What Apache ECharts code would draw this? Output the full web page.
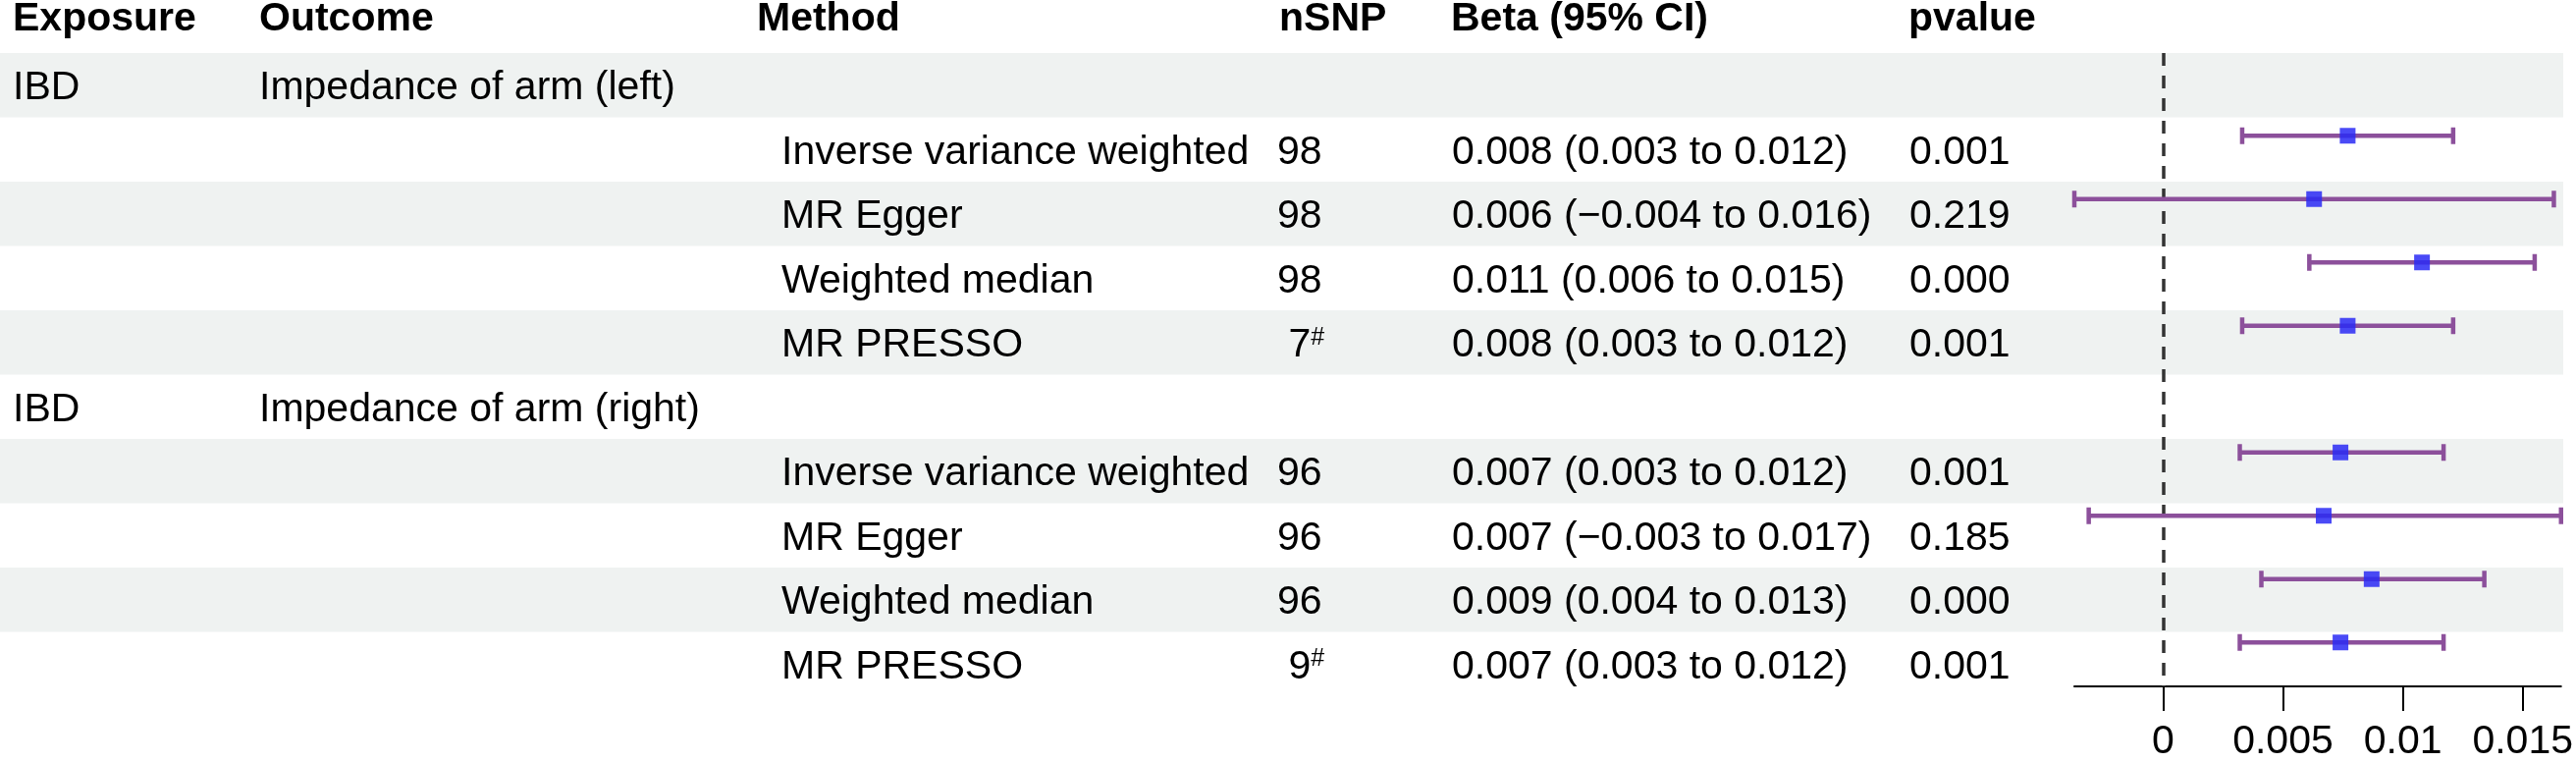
<!DOCTYPE html>
<html>
<head>
<meta charset="utf-8">
<script src="https://cdn.jsdelivr.net/npm/echarts@6/dist/echarts.min.js"></script>
<style>
html, body { margin: 0; padding: 0; background: #fff; }
#main { width: 2624px; height: 776px; }
</style>
</head>
<body>
<div id="main"></div>
<script>
// table columns
var headers = ['Exposure', 'Outcome', 'Method', 'nSNP', 'Beta (95% CI)', 'pvalue'];
var exposure = ['IBD', '', '', '', '', 'IBD', '', '', '', ''];
var outcome = ['Impedance of arm (left)', '', '', '', '', 'Impedance of arm (right)', '', '', '', ''];
var method = ['', 'Inverse variance weighted', 'MR Egger', 'Weighted median', 'MR PRESSO',
              '', 'Inverse variance weighted', 'MR Egger', 'Weighted median', 'MR PRESSO'];
var nsnp = ['', '98', '98', '98', ' 7{sup|#}', '', '96', '96', '96', ' 9{sup|#}'];
var betaText = ['', '0.008 (0.003 to 0.012)', '0.006 (\u22120.004 to 0.016)', '0.011 (0.006 to 0.015)', '0.008 (0.003 to 0.012)',
                '', '0.007 (0.003 to 0.012)', '0.007 (\u22120.003 to 0.017)', '0.009 (0.004 to 0.013)', '0.007 (0.003 to 0.012)'];
var pvalue = ['', '0.001', '0.219', '0.000', '0.001', '', '0.001', '0.185', '0.000', '0.001'];

// forest values
var beta  = [null, 0.0077, 0.0063, 0.0108, 0.0077, null, 0.0074, 0.0067, 0.0087, 0.0074];
var lower = [null, 0.0033, -0.0037, 0.0061, 0.0033, null, 0.0032, -0.0031, 0.0041, 0.0032];
var upper = [null, 0.0121, 0.0163, 0.0155, 0.0121, null, 0.0117, 0.0166, 0.0134, 0.0117];
var ticks = [0, 0.005, 0.01, 0.015];

var FONT = 'Liberation Sans, Arial, Helvetica, sans-serif';
var FS = 41;
var rowTop = 54, rowBottom = 709, tableRight = 2611, forestLeft = 2113;
var headX = [13, 264, 771, 1303, 1478, 1944];
var bodyX = [13, 264, 796, 1301, 1479, 1945];
var ciColor = '#8c509b', boxColor = '#2a2af5';

var rows = exposure.map(function (d, i) { return String(i); });
var columns = [exposure, outcome, method, nsnp, betaText, pvalue];

var xmin = Math.min.apply(null, lower.filter(function (v) { return v != null; }));
var xmax = Math.max.apply(null, upper.filter(function (v) { return v != null; }));

var myChart = echarts.init(document.getElementById('main'));

// 交替背景
function renderBand(params, api) {
  var k = api.value(0);
  if (k % 2 !== 0) return null;
  var p0 = api.coord([0, k]);
  var h = api.size([0, 1])[1];
  var p1 = api.coord([tableRight, k]);
  return {
    type: 'rect',
    shape: { x: p0[0], y: p0[1] - h / 2, width: p1[0] - p0[0], height: h },
    style: { fill: '#eff2f1' }
  };
}

function makeTextSeries(c) {
  var col = columns[c];
  return {
    type: 'custom',
    xAxisIndex: 1, yAxisIndex: 1,
    silent: true, z: 3,
    data: col.map(function (t, k) { return [k]; }),
    renderItem: function (params, api) {
      var k = api.value(0);
      var txt = col[k];
      if (!txt) return null;
      var p = api.coord([bodyX[c], k]);
      return {
        type: 'text',
        x: p[0], y: p[1] + 3,
        style: {
          text: txt, fill: '#000', fontFamily: FONT, fontSize: FS,
          align: 'left', verticalAlign: 'middle',
          rich: { sup: { fontSize: 25, fontFamily: FONT, fill: '#000', verticalAlign: 'top', lineHeight: 22 } }
        }
      };
    }
  };
}

function renderCI(params, api) {
  var k = api.value(1);
  var y = api.coord([0, k])[1] - 12.5;
  var xb = api.coord([api.value(0), k])[0];
  var xl = api.coord([api.value(2), k])[0];
  var xu = api.coord([api.value(3), k])[0];
  var lw = { stroke: ciColor, lineWidth: 4.5 };
  return {
    type: 'group',
    children: [
      { type: 'line', shape: { x1: xl, y1: y, x2: xu, y2: y }, style: lw },
      { type: 'line', shape: { x1: xl, y1: y - 8.5, x2: xl, y2: y + 8.5 }, style: lw },
      { type: 'line', shape: { x1: xu, y1: y - 8.5, x2: xu, y2: y + 8.5 }, style: lw },
      { type: 'rect', shape: { x: xb - 8, y: y - 8, width: 16, height: 16 },
        style: { fill: boxColor, opacity: 0.85 } }
    ]
  };
}

var ciData = [];
beta.forEach(function (b, k) {
  if (b != null) ciData.push([b, k, lower[k], upper[k]]);
});

var series = [
  {
    type: 'custom', xAxisIndex: 1, yAxisIndex: 1, silent: true, z: 0,
    data: rows.map(function (r, k) { return [k]; }),
    renderItem: renderBand
  },
  {
    type: 'custom', xAxisIndex: 0, yAxisIndex: 0, silent: true, z: 5,
    data: ciData,
    renderItem: renderCI,
    markLine: {
      silent: true, symbol: 'none', z: 4,
      label: { show: false },
      lineStyle: { type: [13, 10], color: '#333', width: 3.5 },
      data: [{ xAxis: 0 }]
    }
  }
];
for (var c = 0; c < columns.length; c++) series.push(makeTextSeries(c));

var option = {
  animation: false,
  backgroundColor: '#fff',
  grid: [
    { left: forestLeft, right: 2624 - tableRight, top: rowTop, bottom: 776 - rowBottom },
    { left: 0, right: 2624 - tableRight, top: rowTop, bottom: 776 - rowBottom }
  ],
  xAxis: [
    {
      type: 'value', gridIndex: 0, min: xmin, max: xmax,
      axisLine: { show: true, onZero: false, lineStyle: { color: '#000', width: 2 } },
      axisTick: { show: true, length: 25, customValues: ticks, lineStyle: { color: '#000', width: 2 } },
      axisLabel: { customValues: ticks, color: '#000', fontSize: FS, fontFamily: FONT, margin: 36,
                   formatter: function (v) { return String(v); } },
      splitLine: { show: false }
    },
    { type: 'value', gridIndex: 1, min: 0, max: tableRight, show: false }
  ],
  yAxis: [
    { type: 'category', gridIndex: 0, data: rows, inverse: true, show: false },
    { type: 'category', gridIndex: 1, data: rows, inverse: true, show: false }
  ],
  graphic: headers.map(function (h, i) {
    return {
      type: 'text', x: headX[i], y: 20, silent: true, z: 10,
      style: { text: h, fill: '#000', fontFamily: FONT, fontSize: FS, fontWeight: 'bold',
               verticalAlign: 'middle', align: 'left' }
    };
  }),
  series: series
};

myChart.setOption(option);
</script>
</body>
</html>
